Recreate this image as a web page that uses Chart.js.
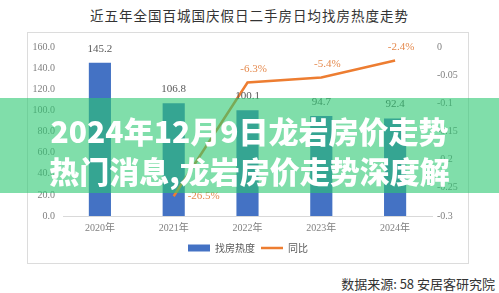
<!DOCTYPE html>
<html>
<head>
<meta charset="utf-8">
<script src="https://cdn.jsdelivr.net/npm/chart.js@4.4.0/dist/chart.umd.min.js"></script>
<style>
  html, body { margin: 0; padding: 0; background: #fff; }
  body { width: 499px; height: 293px; position: relative; overflow: hidden; font-family: "Noto Sans CJK SC", sans-serif; }
  #title { position: absolute; left: 0; top: 5px; width: 499px; text-align: center; font-size: 13.5px; letter-spacing: 1px; color: #333; line-height: 20px; }
  #box { position: absolute; left: 27px; top: 32px; width: 440px; height: 230px; border: 1px solid #dcdcdc; }
  #source { position: absolute; right: 4px; top: 275px; font-size: 13px; color: #333; line-height: 18px; }
  #band { position: absolute; left: 0; top: 98px; width: 499px; height: 95px; background: rgba(43, 200, 113, 0.6); }
  #headline { position: absolute; left: 0; top: 110px; width: 499px; text-align: center; color: #fff; font-weight: 900; font-size: 30px; line-height: 40px; }
</style>
</head>
<body>
<div id="title">近五年全国百城国庆假日二手房日均找房热度走势</div>
<div id="box"><canvas id="chart" width="440" height="230"></canvas></div>
<div id="source">数据来源: 58 安居客研究院</div>
<div id="band"></div>
<div id="headline">2024年12月9日龙岩房价走势<br>热门消息,龙岩房价走势深度解</div>
<script>
// ---- data ----
const years = ['2020年', '2021年', '2022年', '2023年', '2024年'];
const heat = [145.2, 106.8, 100.1, 94.7, 92.4];
const yoy = [null, -0.265, -0.063, -0.054, -0.024];
const yoyText = ['', '-26.5%', '-6.3%', '-5.4%', '-2.4%'];
const rightTicks = ['0', '-0.05', '-0.1', '-0.15', '-0.2', '-0.25', '-0.3'];

const BLUE = '#4472C4';
const ORANGE = '#ED7D31';
const SERIF = '"Liberation Serif", "Noto Sans CJK SC", serif';

// value labels drawn next to each mark
const valueLabels = {
  id: 'valueLabels',
  afterDatasetsDraw(chart) {
    const ctx = chart.ctx;
    ctx.save();
    ctx.font = '11px ' + SERIF;
    ctx.textAlign = 'center';
    ctx.textBaseline = 'middle';

    const bars = chart.getDatasetMeta(0).data;
    ctx.fillStyle = '#595959';
    bars.forEach((bar, i) => {
      ctx.fillText(heat[i].toFixed(1), bar.x, bar.y - 14);
    });

    const pts = chart.getDatasetMeta(1).data;
    ctx.fillStyle = '#E58A4E';
    pts.forEach((pt, i) => {
      if (yoy[i] === null) return;
      if (i === 1) ctx.fillText(yoyText[i], pt.x + 30, pt.y);
      else ctx.fillText(yoyText[i], pt.x + 6, pt.y - 13);
    });
    ctx.restore();
  }
};

new Chart(document.getElementById('chart'), {
  type: 'bar',
  data: {
    labels: years,
    datasets: [
      {
        label: '找房热度',
        data: heat,
        backgroundColor: BLUE,
        categoryPercentage: 1,
        barPercentage: 0.3,
        yAxisID: 'y',
        order: 2
      },
      {
        type: 'line',
        label: '同比',
        data: yoy,
        borderColor: ORANGE,
        backgroundColor: ORANGE,
        borderWidth: 2.5,
        pointRadius: 0,
        tension: 0,
        yAxisID: 'y1',
        order: 1
      }
    ]
  },
  options: {
    responsive: false,
    animation: false,
    layout: { padding: { top: 12, bottom: 0, left: 0, right: 0 } },
    plugins: {
      legend: {
        position: 'bottom',
        labels: {
          usePointStyle: true,
          pointStyleWidth: 22,
          boxHeight: 7,
          padding: 6,
          color: '#595959',
          font: { size: 10, family: '"Noto Sans CJK SC", sans-serif' },
          generateLabels(chart) {
            return [
              { text: '找房热度', fillStyle: BLUE, strokeStyle: BLUE, lineWidth: 0, pointStyle: 'rect', datasetIndex: 0, fontColor: '#595959' },
              { text: '同比', fillStyle: ORANGE, strokeStyle: ORANGE, lineWidth: 2.5, pointStyle: 'line', datasetIndex: 1, fontColor: '#595959' }
            ];
          }
        }
      },
      tooltip: { enabled: false }
    },
    scales: {
      x: {
        grid: { display: false, drawTicks: false },
        border: { display: true, color: '#d9d9d9', width: 1 },
        ticks: { color: '#7f7f7f', padding: 6, font: { size: 10, family: SERIF } },
        afterFit(scale) { scale.height = 21; }
      },
      y: {
        position: 'left',
        min: 0, max: 160,
        grid: { display: false, drawTicks: false },
        border: { display: false },
        ticks: {
          stepSize: 20,
          padding: 8,
          color: '#7f7f7f',
          font: { size: 10, family: SERIF },
          callback: v => v.toFixed(1)
        },
        afterFit(scale) { scale.width = 35; }
      },
      y1: {
        position: 'right',
        min: -0.3, max: 0,
        grid: { display: false, drawTicks: false },
        border: { display: false },
        ticks: {
          stepSize: 0.05,
          padding: 5,
          color: '#7f7f7f',
          font: { size: 10, family: SERIF },
          callback: (v, i, ticks) => rightTicks[ticks.length - 1 - i]
        },
        afterFit(scale) { scale.width = 36; }
      }
    }
  },
  plugins: [valueLabels]
});
</script>
</body>
</html>
